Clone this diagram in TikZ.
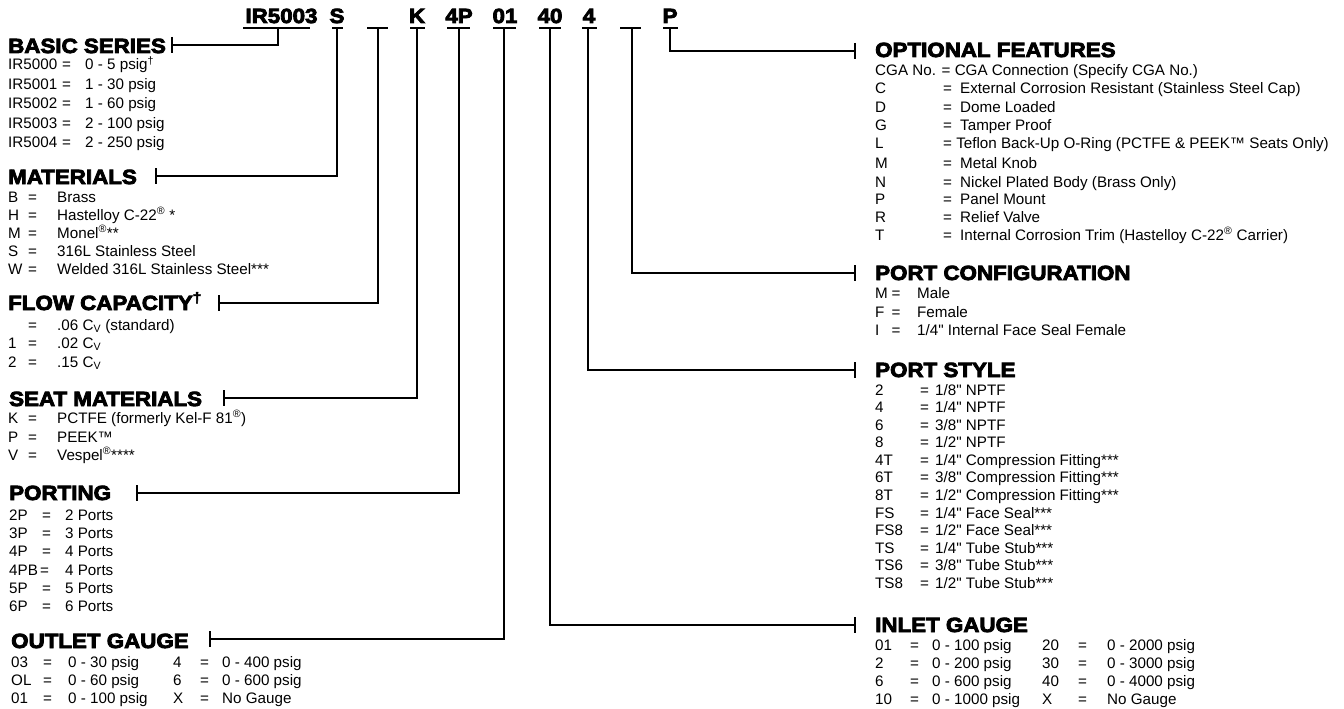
\documentclass[tikz,border=0pt]{standalone}
\usepackage{fontspec}
\setmainfont{Liberation Sans}[Ligatures=TeXOff]
\newfontfamily\hfont{Liberation Sans}[Ligatures=TeXOff,BoldFeatures={FakeBold=4,FakeStretch=1.09}]
\newcommand{\reg}{\textsuperscript{®}}
\newcommand{\cv}{C\textsubscript{V}}
\newcommand{\rw}[4]{\makebox[#1pt][l]{#3}\makebox[#2pt][l]{=}#4}
\newcommand{\gcol}[6]{\makebox[#1pt][l]{#3}\makebox[#2pt][l]{=}\makebox[#4pt][l]{#5}#6}
\tikzset{
  body/.style={anchor=base west, inner sep=0, font=\fontsize{15.2}{18}\selectfont},
  head/.style={anchor=base west, inner sep=0, font=\hfont\bfseries\fontsize{20.5}{24}\selectfont},
  code/.style={anchor=base, inner sep=0, font=\hfont\bfseries\fontsize{20.5}{24}\selectfont},
  conn/.style={line width=1.4pt, line cap=butt},
}
\begin{document}
\begin{tikzpicture}[x=1pt,y=-1pt]
\path[use as bounding box, fill=white] (0,0) rectangle (1344,709);

% ---- code row
\node[code] (cIR) at (281.5,23) {IR5003};
\node[code] (cS)  at (337,23) {S};
\node[code] (cK)  at (417,23) {K};
\node[code] (c4P) at (459,23) {4P};
\node[code] (c01) at (505,23) {01};
\node[code] (c40) at (550,23) {40};
\node[code] (c4)  at (589,23) {4};
\node[code] (cP)  at (670,23) {P};

% underline anchor coordinates
\coordinate (uIR) at (278,28);
\coordinate (uS)  at (337,28);
\coordinate (uF)  at (378,28);
\coordinate (uK)  at (417,28);
\coordinate (u4P) at (459,28);
\coordinate (u01) at (504,28);
\coordinate (u40) at (550,28);
\coordinate (u4)  at (588,28);
\coordinate (uC)  at (632,28);
\coordinate (uP)  at (670,28);

\draw[conn] (243,28) -- (310,28);
\draw[conn] (332,28) -- (343,28);
\draw[conn] (367,28) -- (388,28);
\draw[conn] (410,28) -- (425,28);
\draw[conn] (447,28) -- (470,28);
\draw[conn] (493,28) -- (516,28);
\draw[conn] (539,28) -- (561,28);
\draw[conn] (582,28) -- (597,28);
\draw[conn] (620,28) -- (641,28);
\draw[conn] (663,28) -- (678,28);

% tick coordinates
\coordinate (tBS) at (172,45);
\coordinate (tMA) at (156,176);
\coordinate (tFC) at (219,303);
\coordinate (tSM) at (224,398);
\coordinate (tPO) at (137,493);
\coordinate (tOG) at (210,639);
\coordinate (tIG) at (855,625);
\coordinate (tPS) at (855,370);
\coordinate (tPC) at (855,273);
\coordinate (tOF) at (855,51);

\foreach \u/\t in {uIR/tBS,uS/tMA,uF/tFC,uK/tSM,u4P/tPO,u01/tOG,u40/tIG,u4/tPS,uC/tPC,uP/tOF}{
  \draw[conn] (\u) |- (\t);
  \draw[conn] ([yshift=8pt]\t) -- ([yshift=-8pt]\t);
}

% ---- BASIC SERIES
\node[head] (hBS) at (8,53) {BASIC SERIES};
\node[body] (bs0) at (8,70)  {\rw{54}{23}{IR5000}{0 - 5 psig\textsuperscript{†}}};
\node[body] (bs1) at (8,89)  {\rw{54}{23}{IR5001}{1 - 30 psig}};
\node[body] (bs2) at (8,108) {\rw{54}{23}{IR5002}{1 - 60 psig}};
\node[body] (bs3) at (8,128) {\rw{54}{23}{IR5003}{2 - 100 psig}};
\node[body] (bs4) at (8,147) {\rw{54}{23}{IR5004}{2 - 250 psig}};

% ---- MATERIALS
\node[head] (hMA) at (8,184) {MATERIALS};
\node[body] (ma1) at (8,202) {\rw{20}{29}{B}{Brass}};
\node[body] (ma2) at (8,220) {\rw{20}{29}{H}{Hastelloy C-22\reg{} *}};
\node[body] (ma3) at (8,238) {\rw{20}{29}{M}{Monel\reg**}};
\node[body] (ma4) at (8,256) {\rw{20}{29}{S}{316L Stainless Steel}};
\node[body] (ma5) at (8,274) {\rw{20}{29}{W}{Welded 316L Stainless Steel***}};

% ---- FLOW CAPACITY
\node[head] (hFC) at (8,310) {FLOW CAPACITY\textsuperscript{†}};
\node[body] (fc1) at (8,330) {\rw{20}{29}{}{.06 \cv{} (standard)}};
\node[body] (fc2) at (8,348) {\rw{20}{29}{1}{.02 \cv}};
\node[body] (fc3) at (8,367) {\rw{20}{29}{2}{.15 \cv}};

% ---- SEAT MATERIALS
\node[head] (hSM) at (9,406) {SEAT MATERIALS};
\node[body] (sm1) at (8,423) {\rw{20}{29}{K}{PCTFE (formerly Kel-F 81\reg)}};
\node[body] (sm2) at (8,442) {\rw{20}{29}{P}{PEEK™}};
\node[body] (sm3) at (8,460) {\rw{20}{29}{V}{Vespel\reg****}};

% ---- PORTING
\node[head] (hPO) at (9,500) {PORTING};
\node[body] (po1) at (9,520) {\rw{33}{23}{2P}{2 Ports}};
\node[body] (po2) at (9,538) {\rw{33}{23}{3P}{3 Ports}};
\node[body] (po3) at (9,556) {\rw{33}{23}{4P}{4 Ports}};
\node[body] (po4) at (9,575) {\makebox[31pt][l]{4PB}\makebox[25pt][l]{=}4 Ports};
\node[body] (po5) at (9,593) {\rw{33}{23}{5P}{5 Ports}};
\node[body] (po6) at (9,611) {\rw{33}{23}{6P}{6 Ports}};

% ---- OUTLET GAUGE
\node[head] (hOG) at (11,648) {OUTLET GAUGE};
\node[body] (og1) at (11,667) {\gcol{32}{25}{03}{105}{0 - 30 psig}{\rw{27}{22}{4}{0 - 400 psig}}};
\node[body] (og2) at (11,685) {\gcol{32}{25}{OL}{105}{0 - 60 psig}{\rw{27}{22}{6}{0 - 600 psig}}};
\node[body] (og3) at (11,703) {\gcol{32}{25}{01}{105}{0 - 100 psig}{\rw{27}{22}{X}{No Gauge}}};

% ---- OPTIONAL FEATURES
\node[head] (hOF) at (875,57) {OPTIONAL FEATURES};
\node[body] (of0) at (875,75)  {CGA No. = CGA Connection (Specify CGA No.)};
\node[body] (of1) at (875,93)  {\rw{68}{17}{C}{External Corrosion Resistant (Stainless Steel Cap)}};
\node[body] (of2) at (875,112) {\rw{68}{17}{D}{Dome Loaded}};
\node[body] (of3) at (875,130) {\rw{68}{17}{G}{Tamper Proof}};
\node[body] (of4) at (875,148) {\makebox[68pt][l]{L}= Teflon Back-Up O-Ring (PCTFE \& PEEK™ Seats Only)};
\node[body] (of5) at (875,168) {\rw{68}{17}{M}{Metal Knob}};
\node[body] (of6) at (875,187) {\rw{68}{17}{N}{Nickel Plated Body (Brass Only)}};
\node[body] (of7) at (875,204) {\rw{68}{17}{P}{Panel Mount}};
\node[body] (of8) at (875,222) {\rw{68}{17}{R}{Relief Valve}};
\node[body] (of9) at (875,240) {\rw{68}{17}{T}{Internal Corrosion Trim (Hastelloy C-22\reg{} Carrier)}};

% ---- PORT CONFIGURATION
\node[head] (hPC) at (875,280) {PORT CONFIGURATION};
\node[body] (pc1) at (875,298) {\rw{16.5}{25.5}{M}{Male}};
\node[body] (pc2) at (875,317) {\rw{16.5}{25.5}{F}{Female}};
\node[body] (pc3) at (875,335) {\rw{16.5}{25.5}{I}{1/4" Internal Face Seal Female}};

% ---- PORT STYLE
\node[head] (hPS) at (875,377) {PORT STYLE};
\node[body] (ps0)  at (875,395.0) {\rw{45}{15}{2}{1/8" NPTF}};
\node[body] (ps1)  at (875,412.6) {\rw{45}{15}{4}{1/4" NPTF}};
\node[body] (ps2)  at (875,430.1) {\rw{45}{15}{6}{3/8" NPTF}};
\node[body] (ps3)  at (875,447.7) {\rw{45}{15}{8}{1/2" NPTF}};
\node[body] (ps4)  at (875,465.3) {\rw{45}{15}{4T}{1/4" Compression Fitting***}};
\node[body] (ps5)  at (875,482.9) {\rw{45}{15}{6T}{3/8" Compression Fitting***}};
\node[body] (ps6)  at (875,500.4) {\rw{45}{15}{8T}{1/2" Compression Fitting***}};
\node[body] (ps7)  at (875,518.0) {\rw{45}{15}{FS}{1/4" Face Seal***}};
\node[body] (ps8)  at (875,535.6) {\rw{45}{15}{FS8}{1/2" Face Seal***}};
\node[body] (ps9)  at (875,553.1) {\rw{45}{15}{TS}{1/4" Tube Stub***}};
\node[body] (ps10) at (875,570.7) {\rw{45}{15}{TS6}{3/8" Tube Stub***}};
\node[body] (ps11) at (875,588.3) {\rw{45}{15}{TS8}{1/2" Tube Stub***}};

% ---- INLET GAUGE
\node[head] (hIG) at (875,632) {INLET GAUGE};
\node[body] (ig1) at (875,650) {\gcol{35}{22}{01}{110}{0 - 100 psig}{\rw{36}{29}{20}{0 - 2000 psig}}};
\node[body] (ig2) at (875,668) {\gcol{35}{22}{2}{110}{0 - 200 psig}{\rw{36}{29}{30}{0 - 3000 psig}}};
\node[body] (ig3) at (875,686) {\gcol{35}{22}{6}{110}{0 - 600 psig}{\rw{36}{29}{40}{0 - 4000 psig}}};
\node[body] (ig4) at (875,704) {\gcol{35}{22}{10}{110}{0 - 1000 psig}{\rw{36}{29}{X}{No Gauge}}};
\end{tikzpicture}
\end{document}
